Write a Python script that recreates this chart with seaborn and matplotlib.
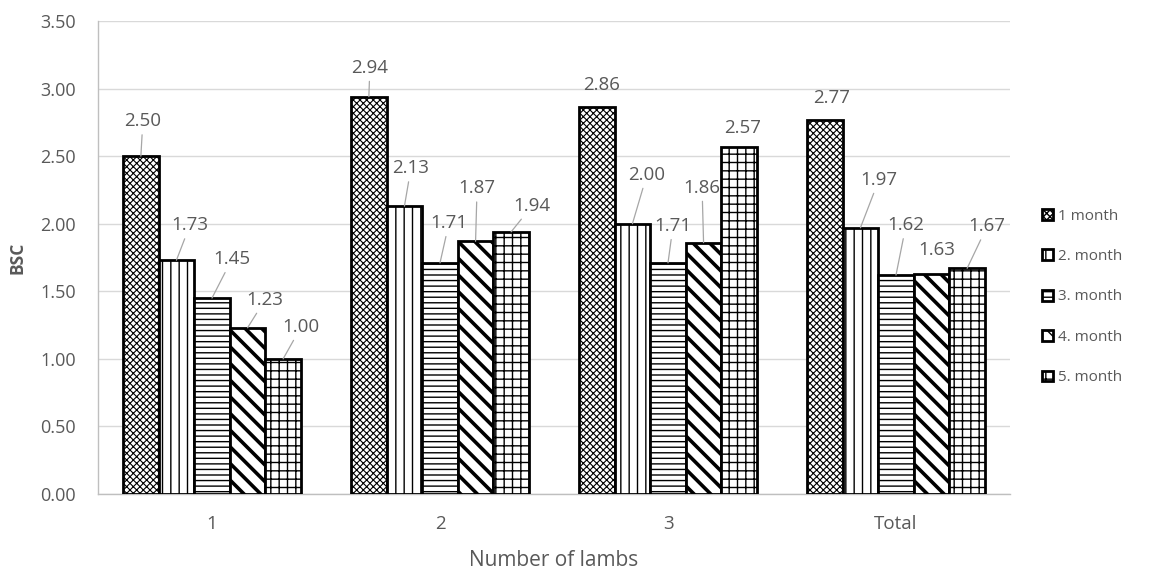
import matplotlib
matplotlib.use("Agg")
import matplotlib.pyplot as plt
import matplotlib.patches as mpatches
import seaborn as sns
import pandas as pd

# Body-condition score by number of lambs and month
groups = ["1", "2", "3", "Total"]
months = ["1 month", "2. month", "3. month", "4. month", "5. month"]
month1 = [2.50, 2.94, 2.86, 2.77]
month2 = [1.73, 2.13, 2.00, 1.97]
month3 = [1.45, 1.71, 1.71, 1.62]
month4 = [1.23, 1.87, 1.86, 1.63]
month5 = [1.00, 1.94, 2.57, 1.67]
series = [month1, month2, month3, month4, month5]

# label offsets (pixels, right / up) from each bar top, one list per month
label_offsets = [
    [(2, 35), (1, 29), (5, 22), (7, 22)],
    [(13.5, 35), (6.5, 38), (14.5, 49), (18.5, 48)],
    [(20, 39), (9, 40), (5, 37), (10, 50)],
    [(17.5, 28), (1.5, 53), (-1.5, 55), (5.5, 24)],
    [(18, 32), (21, 26), (3, 19), (20, 42)],
]
hatches = ["xxxxx", "||", "---", "\\\\", "++"]

rows = []
for m, vals in zip(months, series):
    for g, v in zip(groups, vals):
        rows.append({"Number of lambs": g, "BSC": v, "month": m})
df = pd.DataFrame(rows)

sns.set_theme(style="white")
plt.rcParams["font.family"] = ["Open Sans", "DejaVu Sans"]
plt.rcParams["hatch.linewidth"] = 1.0

GRAY = "#595959"
fig = plt.figure(figsize=(11.55, 5.70), dpi=100)
ax = fig.add_axes([98 / 1155, 76 / 570, 912 / 1155, 473 / 570])

sns.barplot(data=df, x="Number of lambs", y="BSC", hue="month",
            hue_order=months, order=groups, palette=["white"] * 5,
            width=0.78, gap=0, edgecolor="black", linewidth=2.0,
            saturation=1, legend=False, ax=ax, zorder=3)

px = 0.72  # points per pixel at 100 dpi
for container, hatch, vals, offs in zip(ax.containers, hatches, series, label_offsets):
    for bar, v, (dx, dy) in zip(container, vals, offs):
        bar.set_hatch(hatch)
        if hasattr(bar, "set_hatch_linewidth"):
            if hatch.startswith("\\"):
                bar.set_hatch_linewidth(2.6)
            elif hatch.startswith("x"):
                bar.set_hatch_linewidth(0.8)
        x = bar.get_x() + bar.get_width() / 2
        ax.annotate(f"{v:.2f}", xy=(x, v), xytext=(dx * px, dy * px),
                    textcoords="offset points", ha="center", va="center",
                    fontsize=13.5, color=GRAY, zorder=5,
                    arrowprops=dict(arrowstyle="-", color="#a6a6a6", lw=0.9,
                                    shrinkA=1, shrinkB=0) if dy > 25 else None)

ax.set_ylim(0, 3.5)
ax.set_yticks([i * 0.5 for i in range(8)])
ax.set_yticklabels([f"{i * 0.5:.2f}" for i in range(8)])
ax.set_xlim(-0.5, 3.5)
ax.yaxis.grid(True, color="#d9d9d9", lw=1.0, zorder=0)
ax.set_axisbelow(True)
for s in ["top", "right"]:
    ax.spines[s].set_visible(False)
for s in ["left", "bottom"]:
    ax.spines[s].set_color("#bfbfbf")
    ax.spines[s].set_linewidth(1.0)
ax.tick_params(axis="y", colors=GRAY, labelsize=13, length=0, pad=16)
ax.tick_params(axis="x", colors=GRAY, labelsize=13.5, length=0, pad=15)
ax.set_xlabel("Number of lambs", fontsize=15, color=GRAY, labelpad=12)
ax.set_ylabel("BSC", fontsize=12.5, color=GRAY, fontweight="bold", labelpad=10)

handles = [mpatches.Patch(facecolor="white", edgecolor="black", linewidth=2.0,
                          hatch=h, label=m) for h, m in zip(hatches, months)]
fig.legend(handles=handles, loc="center left",
           bbox_to_anchor=(1036 / 1155, (570 - 297) / 570), frameon=False,
           fontsize=11, labelcolor=GRAY, handlelength=0.7, handleheight=0.7,
           handletextpad=0.35, labelspacing=1.66, borderaxespad=0)

fig.savefig("out.png", dpi=100, facecolor="white")
